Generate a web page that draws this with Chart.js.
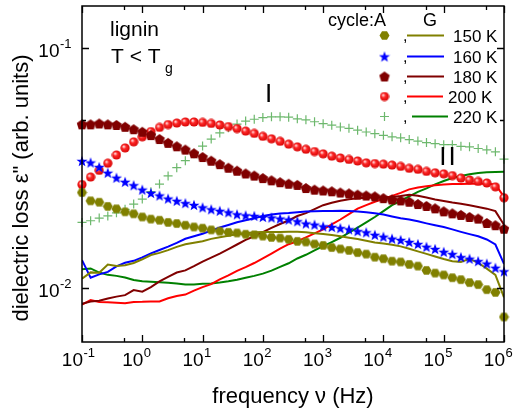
<!DOCTYPE html>
<html>
<head>
<meta charset="utf-8">
<script src="https://cdn.jsdelivr.net/npm/chart.js@4.4.1/dist/chart.umd.min.js"></script>
<style>
  body { margin: 0; background: #fff; }
  canvas { display: block; }
</style>
</head>
<body>
<canvas id="chart" width="518" height="415"></canvas>
<script>
// frequency grid, Hz (7 points per decade)
const freq = [
  0.1, 0.139, 0.193, 0.268, 0.373, 0.518, 0.72,
  1, 1.39, 1.93, 2.68, 3.73, 5.18, 7.2,
  10, 13.9, 19.3, 26.8, 37.3, 51.8, 72,
  100, 139, 193, 268, 373, 518, 720,
  1000, 1390, 1930, 2680, 3730, 5180, 7200,
  1e4, 1.39e4, 1.93e4, 2.68e4, 3.73e4, 5.18e4, 7.2e4,
  1e5, 1.39e5, 1.93e5, 2.68e5, 3.73e5, 5.18e5, 7.2e5,
  1e6
];

const tempLabels = ['150 K', '160 K', '180 K', '200 K', '220 K'];

// cycle A (symbols)
const cycleA150 = [
  .0249, .0230, .0227, .0218, .0213, .0207, .0203, .0197, .0193, .0191,
  .0187, .0185, .0182, .0179, .0177, .0174, .0172, .0170, .0169, .0167,
  .0166, .0164, .0162, .0161, .0159, .0156, .0155, .0152, .0150, .0147,
  .0145, .0143, .0140, .0138, .0134, .0132, .0129, .0128, .0125, .0123,
  .0118, .0115, .0113, .0110, .0108, .0105, .0103, .00981, .00956, .00755
];
const cycleA160 = [
  .0337, .0332, .0318, .0301, .0287, .0276, .0267, .0256, .0248, .0242,
  .0235, .0230, .0225, .0221, .0216, .0212, .0209, .0206, .0202, .0200,
  .0199, .0197, .0196, .0194, .0192, .0189, .0185, .0183, .0180, .0179,
  .0177, .0175, .0172, .0170, .0166, .0163, .0160, .0158, .0155, .0152,
  .0148, .0145, .0141, .0138, .0134, .0132, .0129, .0126, .0121, .0117
];
const cycleA180 = [
  .0479, .0479, .0483, .0479, .0476, .0468, .0457, .0446, .0432, .0416,
  .0401, .0388, .0376, .0363, .0350, .0338, .0327, .0316, .0307, .0299,
  .0293, .0286, .0280, .0275, .0271, .0268, .0260, .0256, .0254, .0252,
  .0249, .0247, .0244, .0242, .0240, .0236, .0233, .0231, .0228, .0223,
  .0219, .0214, .0208, .0204, .0201, .0197, .0194, .0186, .0182, .0176
];
const cycleA200 = [
  .0269, .0289, .0308, .0330, .0357, .0382, .0405, .0425, .0447, .0465,
  .0478, .0485, .0490, .0490, .0488, .0483, .0476, .0469, .0460, .0449,
  .0439, .0427, .0417, .0407, .0396, .0386, .0377, .0369, .0361, .0353,
  .0347, .0342, .0337, .0331, .0329, .0327, .0324, .0320, .0314, .0311,
  .0305, .0301, .0298, .0293, .0286, .0281, .0277, .0273, .0263, .0237
];
const cycleA220 = [
  .0187, .0190, .0195, .0199, .0205, .0212, .0223, .0234, .0251, .0270,
  .0292, .0316, .0338, .0361, .0389, .0416, .0441, .0464, .0480, .0494,
  .0503, .0511, .0515, .0515, .0513, .0505, .0500, .0491, .0482, .0475,
  .0467, .0461, .0453, .0445, .0438, .0431, .0425, .0421, .0414, .0408,
  .0402, .0398, .0394, .0394, .0388, .0386, .0380, .0375, .0368, .0343
];

// cycle G (lines)
const cycleG150 = [
  .01089, .01158, .01153, .01249, .01232, .01240, .01267, .01313, .01368, .01396,
  .01434, .01479, .01517, .01539, .01561, .01597, .01621, .01644, .01668, .01687,
  .01700, .01705, .01705, .01707, .01710, .01711, .01700, .01687, .01673, .01656,
  .01637, .01614, .01594, .01569, .01544, .01526, .01509, .01486, .01452, .01417,
  .01383, .01349, .01316, .01289, .01281, .01318, .01270, .01201, .01131, .00912
];
const cycleG160 = [
  .01303, .01100, .01136, .01164, .01227, .01270, .01294, .01337, .01389, .01436,
  .01482, .01536, .01598, .01637, .01677, .01729, .01780, .01825, .01872, .01910,
  .01948, .01988, .02016, .02039, .02049, .02063, .02075, .02081, .02085, .02087,
  .02089, .02085, .02077, .02063, .02041, .02016, .01979, .01945, .01923, .01890,
  .01853, .01820, .01788, .01749, .01708, .01671, .01637, .01588, .01513, .01256
];
const cycleG180 = [
  .00857, .00876, .00882, .00901, .00918, .00931, .00977, .00963, .01005, .01063,
  .01110, .01156, .01180, .01229, .01285, .01335, .01387, .01447, .01513, .01581,
  .01637, .01705, .01774, .01842, .01905, .01988, .02045, .02124, .02206, .02259,
  .02302, .02335, .02357, .02368, .02373, .02377, .02386, .02407, .02436, .02413,
  .02375, .02328, .02298, .02263, .02238, .02206, .02169, .02134, .02084, .01828
];
const cycleG200 = [
  .00851, .00888, .00872, .00870, .00865, .00861, .00872, .00873, .00876, .00876,
  .00903, .00923, .00936, .00972, .01005, .01034, .01084, .01125, .01175, .01218,
  .01267, .01325, .01387, .01454, .01517, .01561, .01621, .01684, .01749, .01834,
  .01923, .02025, .02134, .02206, .02280, .02346, .02413, .02483, .02567, .02616,
  .02648, .02671, .02689, .02700, .02705, .02712, .02712, .02712, .02692, .02390
];
const cycleG220 = [
  .01194, .01203, .01156, .01131, .01120, .01102, .01076, .01063, .01058, .01053,
  .01048, .01040, .01031, .01031, .01038, .01041, .01050, .01063, .01079, .01100,
  .01120, .01144, .01178, .01221, .01264, .01323, .01371, .01429, .01489, .01549,
  .01614, .01695, .01778, .01869, .01969, .02085, .02206, .02302, .02403, .02508,
  .02592, .02692, .02782, .02862, .02917, .02965, .03002, .03025, .03036, .03039
];

const xMajor = [0.1, 1, 10, 100, 1e3, 1e4, 1e5, 1e6];
const xExp = ['-1', '0', '1', '2', '3', '4', '5', '6'];
const xMinor = [0.5, 5, 50, 500, 5e3, 5e4, 5e5];
const yMajor = [0.01, 0.1];
const yExp = ['-2', '-1'];
const yMinor = [0.05];

const FONT = '"Liberation Sans", Arial, sans-serif';
const colors = ['#808000', '#0000ff', '#800000', '#ff0000', '#008000'];
const crossColor = 'rgba(60,160,60,0.75)';

// marker images
function markerCanvas(size, draw) {
  const c = document.createElement('canvas');
  c.width = size;
  c.height = size;
  draw(c.getContext('2d'), size / 2);
  return c;
}

function polygon(ctx, cx, cy, r, n, rot) {
  ctx.beginPath();
  for (let i = 0; i < n; i++) {
    const a = rot + i * 2 * Math.PI / n;
    ctx.lineTo(cx + r * Math.cos(a), cy + r * Math.sin(a));
  }
  ctx.closePath();
}

const hexagon = markerCanvas(11, (ctx, m) => {
  ctx.fillStyle = colors[0];
  polygon(ctx, m, m, 5, 6, 0);
  ctx.fill();
});

const star = markerCanvas(12, (ctx, m) => {
  ctx.fillStyle = colors[1];
  ctx.beginPath();
  for (let i = 0; i < 10; i++) {
    const r = i % 2 ? 2.4 : 5.8;
    const a = -Math.PI / 2 + i * Math.PI / 5;
    ctx.lineTo(m + r * Math.cos(a), m + 0.6 + r * Math.sin(a));
  }
  ctx.closePath();
  ctx.fill();
});

const pentagon = markerCanvas(12, (ctx, m) => {
  ctx.fillStyle = colors[2];
  polygon(ctx, m, m + 0.5, 5.5, 5, -Math.PI / 2);
  ctx.fill();
});

const ball = markerCanvas(10, (ctx, m) => {
  const g = ctx.createRadialGradient(m - 1.5, m - 1.5, 0.5, m, m, 4.8);
  g.addColorStop(0, '#ffd8d8');
  g.addColorStop(0.35, '#ff2a2a');
  g.addColorStop(1, '#d40000');
  ctx.fillStyle = g;
  ctx.beginPath();
  ctx.arc(m, m, 4.6, 0, Math.PI * 2);
  ctx.fill();
});

const pts = ys => freq.map((f, i) => ({ x: f, y: ys[i] }));

function lineSet(label, ys, color) {
  return {
    label, data: pts(ys), showLine: true, borderColor: color, borderWidth: 2,
    pointRadius: 0, tension: 0, fill: false, order: 2
  };
}

function markerSet(label, ys, style) {
  return {
    label, data: pts(ys), showLine: false, pointStyle: style,
    pointRadius: 5, order: 1, clip: false
  };
}

const datasets = [
  lineSet('G 150 K', cycleG150, colors[0]),
  lineSet('G 160 K', cycleG160, colors[1]),
  lineSet('G 180 K', cycleG180, colors[2]),
  lineSet('G 200 K', cycleG200, colors[3]),
  lineSet('G 220 K', cycleG220, colors[4]),
  markerSet('A 150 K', cycleA150, hexagon),
  markerSet('A 160 K', cycleA160, star),
  markerSet('A 180 K', cycleA180, pentagon),
  markerSet('A 200 K', cycleA200, ball),
  {
    label: 'A 220 K', data: pts(cycleA220), showLine: false, pointStyle: 'cross',
    pointRadius: 4.5, borderColor: crossColor, borderWidth: 1.2, order: 1, clip: false
  }
];

function drawPow(ctx, x, y, exp, size, supSize, rise) {
  // "10" right-aligned at x, exponent after it
  ctx.font = size + 'px ' + FONT;
  ctx.textAlign = 'right';
  ctx.fillText('10', x, y);
  ctx.font = supSize + 'px ' + FONT;
  ctx.textAlign = 'left';
  ctx.fillText(exp, x + 0.5, y - rise);
}

const decorations = {
  id: 'decorations',
  afterDatasetsDraw(chart) {
    const { ctx, chartArea: a, scales: { x, y } } = chart;
    ctx.save();
    ctx.strokeStyle = '#000';
    ctx.lineWidth = 1.5;
    ctx.strokeRect(a.left, a.top, a.right - a.left, a.bottom - a.top);

    ctx.lineWidth = 1.3;
    ctx.beginPath();
    const xt = (v, len) => {
      const px = Math.round(x.getPixelForValue(v)) + 0.5;
      ctx.moveTo(px, a.bottom); ctx.lineTo(px, a.bottom - len);
      ctx.moveTo(px, a.top); ctx.lineTo(px, a.top + len);
    };
    const yt = (v, len) => {
      const py = Math.round(y.getPixelForValue(v)) + 0.5;
      ctx.moveTo(a.left, py); ctx.lineTo(a.left + len, py);
      ctx.moveTo(a.right, py); ctx.lineTo(a.right - len, py);
    };
    xMajor.forEach(v => xt(v, 7));
    xMinor.forEach(v => xt(v, 4));
    yMajor.forEach(v => yt(v, 7));
    yMinor.forEach(v => yt(v, 4));
    ctx.stroke();

    // tick labels
    ctx.fillStyle = '#000';
    ctx.textBaseline = 'alphabetic';
    xMajor.forEach((v, i) => {
      drawPow(ctx, x.getPixelForValue(v) + 1, 366, xExp[i], 19, 13, 9);
    });
    yMajor.forEach((v, i) => {
      drawPow(ctx, 59.5, y.getPixelForValue(v) + 9.5, yExp[i], 19, 13, 9);
    });

    // axis titles
    ctx.font = '22px ' + FONT;
    ctx.textAlign = 'center';
    ctx.fillText('frequency \u03bd (Hz)', (a.left + a.right) / 2, 403);
    ctx.save();
    ctx.translate(28, 188);
    ctx.rotate(-Math.PI / 2);
    ctx.fillText('dielectric loss \u03b5" (arb. units)', 0, 0);
    ctx.restore();

    // annotations
    ctx.textAlign = 'left';
    ctx.font = '21px ' + FONT;
    ctx.fillText('lignin', 110, 36);
    ctx.fillText('T < T', 111, 63);
    ctx.font = '14px ' + FONT;
    ctx.fillText('g', 165, 73);
    ctx.textAlign = 'center';
    ctx.font = '26px ' + FONT;
    ctx.fillText('I', 268.5, 102);
    ctx.letterSpacing = '2px';
    ctx.fillText('II', 448.5, 165);
    ctx.letterSpacing = '0px';

    // legend
    ctx.font = '18px ' + FONT;
    ctx.textAlign = 'left';
    ctx.fillText('cycle:A', 328, 26);
    ctx.fillText('G', 423, 26);
    const rows = [35.5, 56.5, 76.5, 96.5, 116.5];
    const syms = [hexagon, star, pentagon, ball];
    const lineX = [[407, 444], [407, 444], [407, 444], [407, 443], [412, 448]];
    const textX = [453, 453, 453, 448, 453];
    rows.forEach((ry, i) => {
      if (i < 4) {
        const s = syms[i];
        ctx.drawImage(s, 384.5 - s.width / 2, ry - s.height / 2);
      } else {
        ctx.strokeStyle = crossColor;
        ctx.lineWidth = 1.2;
        ctx.beginPath();
        ctx.moveTo(380, ry); ctx.lineTo(389, ry);
        ctx.moveTo(384.5, ry - 4.5); ctx.lineTo(384.5, ry + 4.5);
        ctx.stroke();
      }
      ctx.fillStyle = '#000';
      ctx.font = '16px ' + FONT;
      ctx.fillText(',', 403, ry + 5);
      ctx.strokeStyle = colors[i];
      ctx.lineWidth = 2.2;
      ctx.beginPath();
      ctx.moveTo(lineX[i][0], ry); ctx.lineTo(lineX[i][1], ry);
      ctx.stroke();
      ctx.font = '17px ' + FONT;
      ctx.fillText(tempLabels[i], textX[i], ry + 6);
    });
    ctx.restore();
  }
};

new Chart(document.getElementById('chart'), {
  type: 'scatter',
  data: { datasets },
  options: {
    responsive: false,
    animation: false,
    events: [],
    layout: { padding: { left: 0, right: 14, top: 2, bottom: 0 } },
    plugins: { legend: { display: false }, tooltip: { enabled: false } },
    scales: {
      x: {
        type: 'logarithmic', min: 0.1, max: 1e6,
        grid: { display: false }, border: { display: false },
        ticks: { display: false },
        afterFit: s => { s.height = 73; }
      },
      y: {
        type: 'logarithmic', min: 0.00594, max: 0.149,
        grid: { display: false }, border: { display: false },
        ticks: { display: false },
        afterFit: s => { s.width = 82; }
      }
    }
  },
  plugins: [decorations]
});
</script>
</body>
</html>
